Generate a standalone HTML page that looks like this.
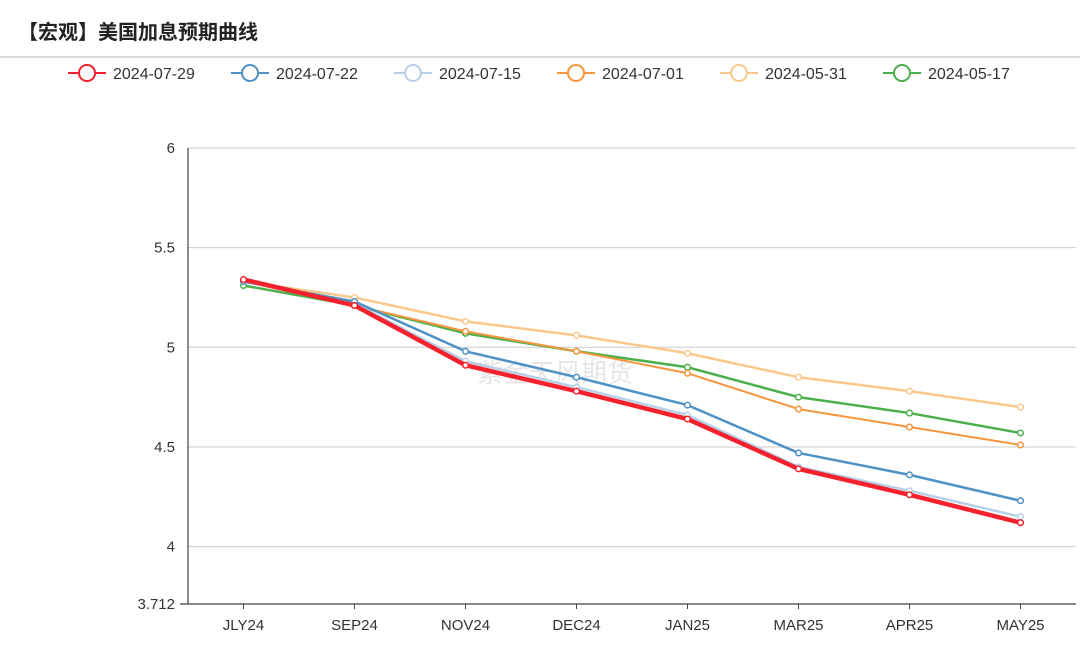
<!DOCTYPE html>
<html><head><meta charset="utf-8"><style>
body{margin:0;background:#fff;width:1080px;height:647px;overflow:hidden;font-family:"Liberation Sans","Noto Sans CJK SC",sans-serif}
</style></head><body>
<svg id="c" width="1080" height="647" xmlns="http://www.w3.org/2000/svg">
<text x="18" y="39" font-size="20" font-weight="bold" fill="#222" font-family="Liberation Sans, Noto Sans CJK SC, sans-serif">【宏观】美国加息预期曲线</text>
<line x1="0" y1="57" x2="1080" y2="57" stroke="#bbb" stroke-width="1"/>
<g id="legend"></g>
<g id="grid"></g>
<text x="555" y="382" font-size="26" fill="#000" fill-opacity="0.1" text-anchor="middle" font-family="Liberation Sans, Noto Sans CJK SC, sans-serif">紫金天风期货</text>
<g id="series"></g>
</svg>
<script>
const categories=["JLY24","SEP24","NOV24","DEC24","JAN25","MAR25","APR25","MAY25"];
const seriesNames=["2024-07-29","2024-07-22","2024-07-15","2024-07-01","2024-05-31","2024-05-17"];
const s0729=[5.34,5.21,4.91,4.78,4.64,4.39,4.26,4.12];
const s0722=[5.33,5.23,4.98,4.85,4.71,4.47,4.36,4.23];
const s0715=[5.33,5.22,4.93,4.80,4.66,4.40,4.28,4.15];
const s0701=[5.33,5.21,5.08,4.98,4.87,4.69,4.60,4.51];
const s0531=[5.33,5.25,5.13,5.06,4.97,4.85,4.78,4.70];
const s0517=[5.31,5.21,5.07,4.98,4.90,4.75,4.67,4.57];
const yTicks=[6,5.5,5,4.5,4];
const yMinLabel="3.712";
const colors=["#f5222d","#4e91c4","#b8cfe8","#f7953d","#fbc88c","#4cae4c"];
const widths=[4.5,2.5,2.5,2,2.5,2.5];
const allSeries=[s0729,s0722,s0715,s0701,s0531,s0517];
const NS="http://www.w3.org/2000/svg";
const X0=188,X1=1076,YMIN=3.712,YMAX=6,Y0=604,Y1=148;
const band=(X1-X0)/categories.length;
const xs=i=>X0+band*(i+0.5);
const ys=v=>Y0-(v-YMIN)/(YMAX-YMIN)*(Y0-Y1);
function mk(t,a,p){const e=document.createElementNS(NS,t);for(const k in a)e.setAttribute(k,a[k]);p.appendChild(e);return e;}
const grid=document.getElementById('grid');
yTicks.forEach(v=>{
 const l=mk('line',{x1:X0,x2:X1,y1:ys(v),y2:ys(v),stroke:'#ccc'},grid);
 
 
 const t=mk('text',{x:X0-13,y:ys(v)+5,'font-size':15,fill:'#333','text-anchor':'end'},grid);t.textContent=v;
 
 
});
const tm=mk('text',{x:X0-13,y:Y0+5,'font-size':15,fill:'#333','text-anchor':'end'},grid);tm.textContent=yMinLabel;


const ax=mk('line',{x1:X0-8,x2:X1,y1:Y0,y2:Y0,stroke:'#444','stroke-width':1.2},grid);


const ay=mk('line',{x1:X0,x2:X0,y1:Y1,y2:Y0,stroke:'#444','stroke-width':1.2},grid);


categories.forEach((c,i)=>{
 const tk=mk('line',{x1:xs(i),x2:xs(i),y1:Y0,y2:Y0+5,stroke:'#444'},grid);
 
 
 const t=mk('text',{x:xs(i),y:Y0+26,'font-size':15,fill:'#333','text-anchor':'middle'},grid);t.textContent=c;
 
 
});
const sg=document.getElementById('series');
for(let k=allSeries.length-1;k>=0;k--){
 const d=allSeries[k];
 const g=mk('g',{},sg);
 
 
 const p=mk('polyline',{points:d.map((v,i)=>xs(i)+','+ys(v)).join(' '),fill:'none',stroke:colors[k],'stroke-width':widths[k],'stroke-linejoin':'round'},g);
 
 
 d.forEach((v,i)=>{
  const c=mk('circle',{cx:xs(i),cy:ys(v),r:2.8,fill:'#fff',stroke:colors[k],'stroke-width':1.5},g);
  
  
 });
}
const lg=document.getElementById('legend');
const lx=[68,231,394,557,720,883];
seriesNames.forEach((n,k)=>{
 const g=mk('g',{},lg);
 
 
 mk('line',{x1:lx[k],x2:lx[k]+38,y1:73,y2:73,stroke:colors[k],'stroke-width':2},g);
 mk('circle',{cx:lx[k]+19,cy:73,r:8,fill:'#fff',stroke:colors[k],'stroke-width':2},g);
 const t=mk('text',{x:lx[k]+45,y:79,'font-size':16,fill:'#333'},g);t.textContent=n;
});
</script>
</body></html>
